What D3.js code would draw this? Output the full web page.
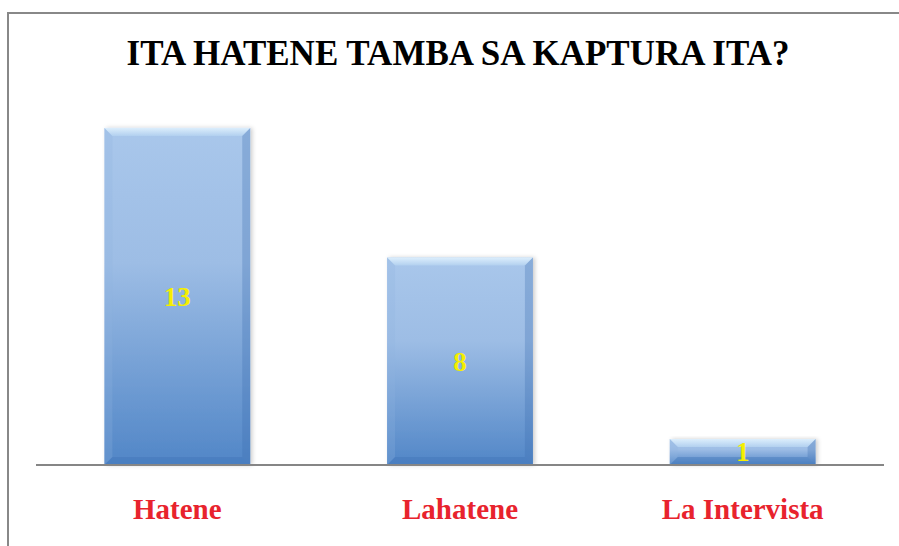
<!DOCTYPE html>
<html>
<head>
<meta charset="utf-8">
<script src="https://cdn.jsdelivr.net/npm/d3@7"></script>
<style>
  html, body { margin: 0; padding: 0; background: #fff; }
  svg { display: block; }
</style>
</head>
<body>
<div id="chart"></div>
<script>
'use strict';

var categories = ['Hatene', 'Lahatene', 'La Intervista'];
var values = [13, 8, 1];
var title = 'ITA HATENE TAMBA SA KAPTURA ITA?';

var width = 899, height = 546;
var plot = { left: 36, right: 884, top: 102, bottom: 465 };
var bevel = 8;

var svg = d3.select('#chart').append('svg')
  .attr('width', width)
  .attr('height', height);

var defs = svg.append('defs');

var grad = defs.append('linearGradient')
  .attr('id', 'barFill')
  .attr('x1', 0).attr('y1', 0).attr('x2', 0).attr('y2', 1);
grad.append('stop').attr('offset', '0%').attr('stop-color', '#a9c7eb');
grad.append('stop').attr('offset', '40%').attr('stop-color', '#9dbde5');
grad.append('stop').attr('offset', '100%').attr('stop-color', '#5186c7');

var topGrad = defs.append('linearGradient')
  .attr('id', 'topBevel')
  .attr('x1', 0).attr('y1', 0).attr('x2', 0).attr('y2', 1);
topGrad.append('stop').attr('offset', '0%').attr('stop-color', '#dceefc');
topGrad.append('stop').attr('offset', '100%').attr('stop-color', '#b2d0ef');

var shadow = defs.append('filter')
  .attr('id', 'shadow')
  .attr('x', '-10%').attr('y', '-10%').attr('width', '130%').attr('height', '130%');
shadow.append('feDropShadow')
  .attr('dx', 2).attr('dy', 0)
  .attr('stdDeviation', 2)
  .attr('flood-color', '#000')
  .attr('flood-opacity', 0.2);

// frame (cropped on the right and bottom)
svg.append('rect')
  .attr('x', 8).attr('y', 13)
  .attr('width', 1000).attr('height', 1000)
  .attr('fill', 'none')
  .attr('stroke', '#888')
  .attr('stroke-width', 2);

var x = d3.scaleBand()
  .domain(categories)
  .range([plot.left, plot.right])
  .paddingInner(0.484)
  .paddingOuter(0.242);

var y = d3.scaleLinear()
  .domain([0, 14])
  .range([plot.bottom, plot.top]);

svg.append('text')
  .attr('x', 458)
  .attr('y', 65)
  .attr('text-anchor', 'middle')
  .attr('font-family', '"Liberation Serif", "Times New Roman", serif')
  .attr('font-weight', 'bold')
  .attr('font-size', 35)
  .attr('fill', '#000')
  .text(title);

var data = categories.map(function (c, i) { return { cat: c, value: values[i] }; });

var bars = svg.append('g').selectAll('g.bar')
  .data(data)
  .enter().append('g')
  .attr('class', 'bar');

bars.append('rect')
  .attr('x', function (d) { return x(d.cat); })
  .attr('y', function (d) { return y(d.value); })
  .attr('width', x.bandwidth())
  .attr('height', function (d) { return y(0) - y(d.value); })
  .attr('fill', 'url(#barFill)')
  .attr('filter', 'url(#shadow)');

function pts(arr) {
  return arr.map(function (p) { return p.join(','); }).join(' ');
}

// bevel edges
bars.each(function (d) {
  var g = d3.select(this);
  var x0 = x(d.cat), x1 = x0 + x.bandwidth();
  var y0 = y(d.value), y1 = y(0);
  var b = Math.min(bevel, (y1 - y0) / 2);
  g.append('polygon')
    .attr('points', pts([[x0, y0], [x1, y0], [x1 - b, y0 + b], [x0 + b, y0 + b]]))
    .attr('fill', 'url(#topBevel)');
  g.append('polygon')
    .attr('points', pts([[x0, y0], [x0 + b, y0 + b], [x0 + b, y1 - b], [x0, y1]]))
    .attr('fill', '#8fb2de').attr('opacity', 0.25);
  g.append('polygon')
    .attr('points', pts([[x1, y0], [x1 - b, y0 + b], [x1 - b, y1 - b], [x1, y1]]))
    .attr('fill', '#3d6eae').attr('opacity', 0.3);
  g.append('polygon')
    .attr('points', pts([[x0, y1], [x0 + b, y1 - b], [x1 - b, y1 - b], [x1, y1]]))
    .attr('fill', '#3f73b6').attr('opacity', 0.4);
});

bars.append('text')
  .attr('x', function (d) { return x(d.cat) + x.bandwidth() / 2; })
  .attr('y', function (d) { return (y(d.value) + y(0)) / 2; })
  .attr('dy', '0.35em')
  .attr('text-anchor', 'middle')
  .attr('font-family', '"Liberation Serif", "Times New Roman", serif')
  .attr('font-weight', 'bold')
  .attr('font-size', 27)
  .attr('fill', '#f5ee00')
  .text(function (d) { return d.value; });

// baseline axis
svg.append('line')
  .attr('x1', plot.left).attr('x2', plot.right)
  .attr('y1', y(0)).attr('y2', y(0))
  .attr('stroke', '#868686')
  .attr('stroke-width', 2);

var xAxis = d3.axisBottom(x).tickSize(0).tickPadding(0);
var ax = svg.append('g')
  .attr('transform', 'translate(0,' + y(0) + ')')
  .call(xAxis);
ax.select('.domain').remove();
ax.selectAll('text')
  .attr('y', 54)
  .attr('dy', 0)
  .attr('font-family', '"Liberation Serif", "Times New Roman", serif')
  .attr('font-weight', 'bold')
  .attr('font-size', 29)
  .attr('fill', '#e8232d');
</script>
</body>
</html>
